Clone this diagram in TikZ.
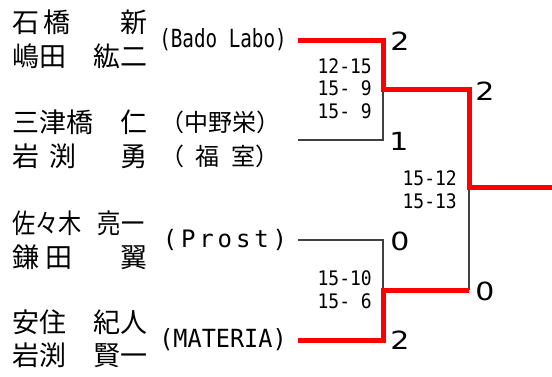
\documentclass[tikz,border=0pt]{standalone}
\usepackage{fontspec}
\setmainfont{Noto Sans CJK JP}
\newfontfamily\condfont[FakeStretch=0.86]{Noto Sans CJK JP}
\newfontfamily\teamfont[FakeStretch=0.94]{DejaVu Sans Mono}
\newfontfamily\labofont[FakeStretch=0.77]{DejaVu Sans Mono}
\newfontfamily\spacedfont[LetterSpace=16]{DejaVu Sans Mono}
\newfontfamily\scorefont[FakeStretch=0.9]{DejaVu Sans Mono}
\newfontfamily\winfont[FakeStretch=1.2]{DejaVu Sans}
\definecolor{winred}{RGB}{255,0,0}
\definecolor{linegray}{RGB}{64,64,64}

\begin{document}
\begin{tikzpicture}[x=1pt,y=-1pt]
\tikzset{player/.style={anchor=west, inner sep=0pt, font=\fontsize{27}{27}\selectfont},
  club/.style={inner sep=0pt, font=\fontsize{24}{24}\selectfont},
  games/.style={anchor=east, inner sep=0pt, font=\scorefont\fontsize{20}{20}\selectfont},
  sets/.style={inner sep=0pt, font=\winfont\fontsize{25}{25}\selectfont},
  winline/.style={draw=winred, line width=5pt},
  loseline/.style={draw=linegray, line width=1.3pt}}
\useasboundingbox (0,0) rectangle (552,376);
% players
\node[player] (P1) at (12,22) {石\hspace{4pt}橋\hspace{50pt}新};
\node[player] (P2) at (12,56) {嶋田　紘二};
\node[player] (P3) at (12,122) {三津橋　仁};
\node[player] (P4) at (12,156) {岩\hspace{10pt}渕\hspace{44pt}勇};
\node[player] (P5) at (12,223) {\condfont 佐々木\hspace{16pt}亮一};
\node[player] (P6) at (12,257) {鎌\hspace{6pt}田\hspace{48pt}翼};
\node[player] (P7) at (12,322) {安住　紀人};
\node[player] (P8) at (12,355) {岩渕　賢一};
% clubs
\node[club] (C1) at (223,40) {\labofont\fontsize{25}{25}\selectfont (Bado Labo)};
\node[club] (C2) at (220,122) {（中野栄）};
\node[club] (C3) at (220,156) {（\hspace{11pt}福\hspace{12pt}室）};
\node[club] (C4) at (225,240) {\spacedfont (Prost)};
\node[club] (C5) at (223,340) {\teamfont\fontsize{25}{25}\selectfont (MATERIA)};
% bracket points
\coordinate (E1) at (298,40);
\coordinate (E2) at (298,140);
\coordinate (E3) at (298,240);
\coordinate (E4) at (298,340);
\coordinate (M1) at (383,89);
\coordinate (M2) at (383,290);
\coordinate (S2) at (469,290);
\coordinate (F) at (469,187);
\coordinate (W) at (552,187);
\draw[loseline] (E2) -| (M1);
\draw[loseline] (E3) -| (M2);
\draw[loseline] (S2) -- (F);
\draw[winline] (E1) -| (M1) -| (F) -- (W);
\draw[winline] (E4) -| (M2) -- (S2);
% game scores
\node[games] (G1) at (372,66) {12-15};
\node[games] (G2) at (372,88) {15- 9};
\node[games] (G3) at (372,111) {15- 9};
\node[games] (G4) at (457,178) {15-12};
\node[games] (G5) at (457,201) {15-13};
\node[games] (G6) at (372,278) {15-10};
\node[games] (G7) at (372,301) {15- 6};
% set scores
\node[sets] (R1) at (400,41) {2};
\node[sets] (R2) at (399,141) {1};
\node[sets] (R3) at (485,91) {2};
\node[sets] (R4) at (400,241) {0};
\node[sets] (R5) at (485,291) {0};
\node[sets] (R6) at (400,340) {2};
\end{tikzpicture}
\end{document}
